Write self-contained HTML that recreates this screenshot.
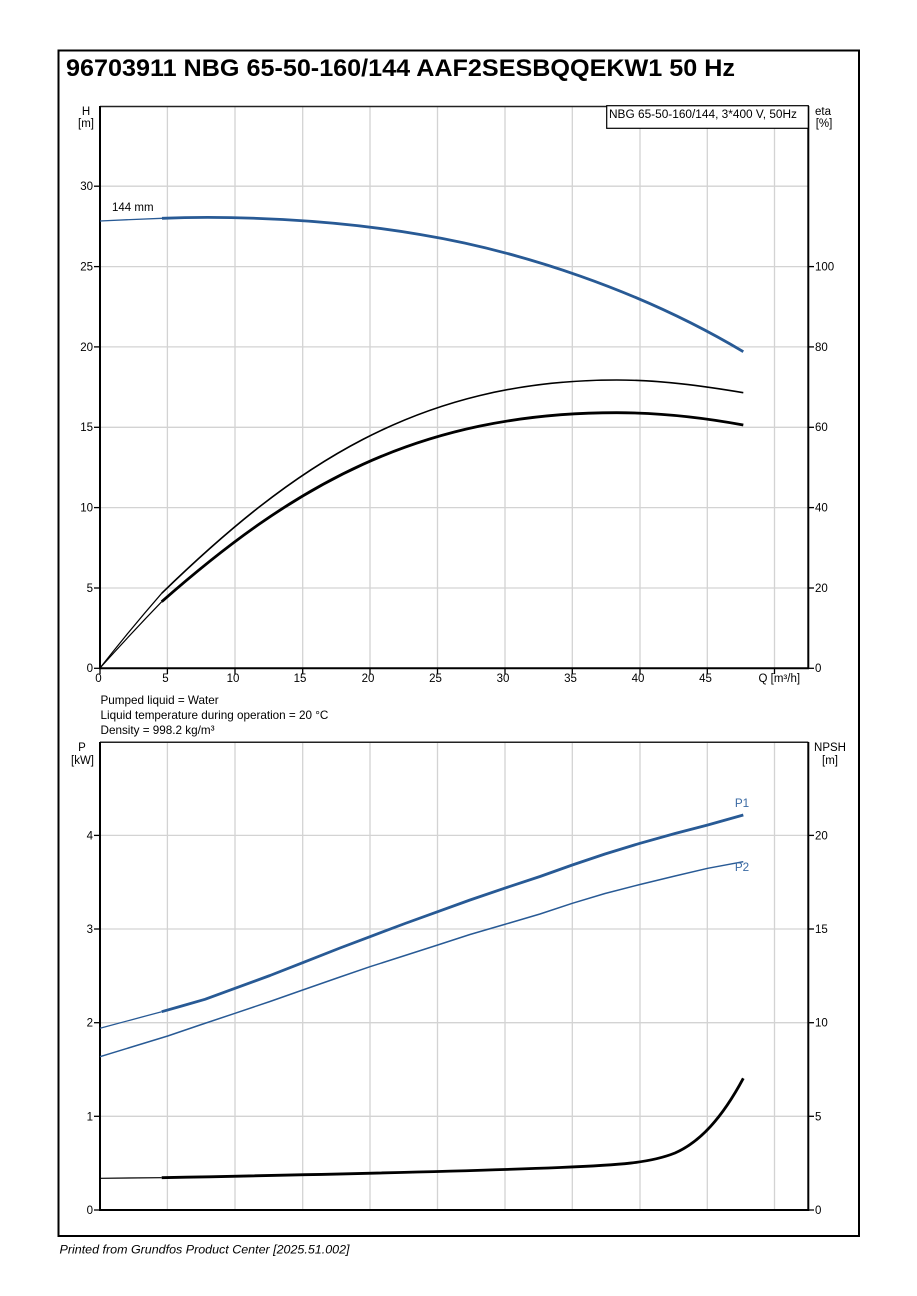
<!DOCTYPE html>
<html>
<head>
<meta charset="utf-8">
<style>
  html,body{margin:0;padding:0;background:#fff;}
  svg{display:block;}
  text{font-family:"Liberation Sans",Arial,sans-serif;fill:#000;}
</style>
</head>
<body>
<svg width="917" height="1296" viewBox="0 0 917 1296" xmlns="http://www.w3.org/2000/svg">
  <rect x="0" y="0" width="917" height="1296" fill="#fff"/>
  <rect x="58.5" y="50.5" width="800.5" height="1185.5" fill="none" stroke="#000" stroke-width="2"/>
  <text x="66" y="76" font-size="24" font-weight="bold" textLength="669" lengthAdjust="spacingAndGlyphs">96703911 NBG 65-50-160/144 AAF2SESBQQEKW1 50 Hz</text>

  <!-- ================= TOP PLOT ================= -->
  <g stroke="#d3d3d3" stroke-width="1.3" fill="none">
    <line x1="167.4" y1="106" x2="167.4" y2="668"/>
    <line x1="235" y1="106" x2="235" y2="668"/>
    <line x1="302.7" y1="106" x2="302.7" y2="668"/>
    <line x1="370" y1="106" x2="370" y2="668"/>
    <line x1="437.5" y1="106" x2="437.5" y2="668"/>
    <line x1="505" y1="106" x2="505" y2="668"/>
    <line x1="572.3" y1="106" x2="572.3" y2="668"/>
    <line x1="640" y1="106" x2="640" y2="668"/>
    <line x1="707.3" y1="106" x2="707.3" y2="668"/>
    <line x1="774.5" y1="106" x2="774.5" y2="668"/>
    <line x1="100" y1="588" x2="808" y2="588"/>
    <line x1="100" y1="507.6" x2="808" y2="507.6"/>
    <line x1="100" y1="427.3" x2="808" y2="427.3"/>
    <line x1="100" y1="346.9" x2="808" y2="346.9"/>
    <line x1="100" y1="266.6" x2="808" y2="266.6"/>
    <line x1="100" y1="186.2" x2="808" y2="186.2"/>
  </g>
  <line x1="100" y1="106.5" x2="808.3" y2="106.5" stroke="#222" stroke-width="1.5"/>
  <line x1="808.3" y1="106" x2="808.3" y2="669" stroke="#000" stroke-width="2"/>
  <line x1="100" y1="106" x2="100" y2="669" stroke="#000" stroke-width="2"/>
  <line x1="99" y1="668.3" x2="809" y2="668.3" stroke="#000" stroke-width="2"/>
  <g stroke="#000" stroke-width="1.3">
    <line x1="94" y1="668.3" x2="100" y2="668.3"/>
    <line x1="94" y1="588" x2="100" y2="588"/>
    <line x1="94" y1="507.6" x2="100" y2="507.6"/>
    <line x1="94" y1="427.3" x2="100" y2="427.3"/>
    <line x1="94" y1="346.9" x2="100" y2="346.9"/>
    <line x1="94" y1="266.6" x2="100" y2="266.6"/>
    <line x1="94" y1="186.2" x2="100" y2="186.2"/>
    <line x1="808" y1="668.3" x2="814" y2="668.3"/>
    <line x1="808" y1="588" x2="814" y2="588"/>
    <line x1="808" y1="507.6" x2="814" y2="507.6"/>
    <line x1="808" y1="427.3" x2="814" y2="427.3"/>
    <line x1="808" y1="346.9" x2="814" y2="346.9"/>
    <line x1="808" y1="266.6" x2="814" y2="266.6"/>
    <line x1="100" y1="668" x2="100" y2="674"/>
    <line x1="167.4" y1="668" x2="167.4" y2="674"/>
    <line x1="235" y1="668" x2="235" y2="674"/>
    <line x1="302.7" y1="668" x2="302.7" y2="674"/>
    <line x1="370" y1="668" x2="370" y2="674"/>
    <line x1="437.5" y1="668" x2="437.5" y2="674"/>
    <line x1="505" y1="668" x2="505" y2="674"/>
    <line x1="572.3" y1="668" x2="572.3" y2="674"/>
    <line x1="640" y1="668" x2="640" y2="674"/>
    <line x1="707.3" y1="668" x2="707.3" y2="674"/>
    <line x1="774.5" y1="668" x2="774.5" y2="674"/>
  </g>
  <g font-size="11.5" text-anchor="end">
    <text x="93" y="672">0</text>
    <text x="93" y="592">5</text>
    <text x="93" y="511.5">10</text>
    <text x="93" y="431">15</text>
    <text x="93" y="351">20</text>
    <text x="93" y="270.5">25</text>
    <text x="93" y="190">30</text>
  </g>
  <g font-size="11.5">
    <text x="815" y="672">0</text>
    <text x="815" y="592">20</text>
    <text x="815" y="511.5">40</text>
    <text x="815" y="431">60</text>
    <text x="815" y="351">80</text>
    <text x="815" y="270.5">100</text>
  </g>
  <g font-size="11.5" text-anchor="middle">
    <text x="98.5" y="682">0</text>
    <text x="165.5" y="682">5</text>
    <text x="233" y="682">10</text>
    <text x="300" y="682">15</text>
    <text x="368" y="682">20</text>
    <text x="435.5" y="682">25</text>
    <text x="503" y="682">30</text>
    <text x="570.5" y="682">35</text>
    <text x="638" y="682">40</text>
    <text x="705.5" y="682">45</text>
  </g>
  <text x="758.5" y="682" font-size="11.5">Q [m³/h]</text>
  <g font-size="11.5" text-anchor="middle">
    <text x="86" y="115">H</text>
    <text x="86" y="127">[m]</text>
    <text x="823" y="115">eta</text>
    <text x="824" y="127">[%]</text>
  </g>
  <rect x="606.7" y="105.7" width="201.6" height="22.6" fill="#fff" stroke="#000" stroke-width="1.2"/>
  <text x="609" y="118" font-size="11.5" textLength="188" lengthAdjust="spacingAndGlyphs">NBG 65-50-160/144, 3*400 V, 50Hz</text>
  <text x="112" y="211" font-size="11.5">144 mm</text>

  <!-- H curve -->
  <polyline fill="none" stroke="#285a95" stroke-width="1.3" points="100,221 130,219.6 162,218.3"/>
  <path fill="none" stroke="#285a95" stroke-width="2.8"
        d="M162,218.3 C230,215.5 330,219 420,234.5 C520,251 640,290 743.3,351.7"/>

  <!-- eta upper (thin) -->
  <path fill="none" stroke="#000" stroke-width="1.2" d="M100,668 Q131,628.5 161.7,593.3"/>
  <path fill="none" stroke="#000" stroke-width="1.6"
        d="M161.7,593.3 C291.7,467.2 416.7,380 616.7,380 C660,380 703.3,386 743.3,392.7"/>

  <!-- eta lower (thick) -->
  <path fill="none" stroke="#000" stroke-width="1.2" d="M100,668 Q131,633.5 161.7,601.7"/>
  <path fill="none" stroke="#000" stroke-width="2.8"
        d="M161.7,601.7 C291.7,487.3 416.7,412.7 616.7,412.7 C660,412.7 703.3,417.6 743.3,425"/>

  <g font-size="11.7">
    <text x="100.5" y="704">Pumped liquid = Water</text>
    <text x="100.5" y="719">Liquid temperature during operation = 20 °C</text>
    <text x="100.5" y="734">Density = 998.2 kg/m³</text>
  </g>

  <!-- ================= BOTTOM PLOT ================= -->
  <g stroke="#d3d3d3" stroke-width="1.3" fill="none">
    <line x1="167.4" y1="742" x2="167.4" y2="1210"/>
    <line x1="235" y1="742" x2="235" y2="1210"/>
    <line x1="302.7" y1="742" x2="302.7" y2="1210"/>
    <line x1="370" y1="742" x2="370" y2="1210"/>
    <line x1="437.5" y1="742" x2="437.5" y2="1210"/>
    <line x1="505" y1="742" x2="505" y2="1210"/>
    <line x1="572.3" y1="742" x2="572.3" y2="1210"/>
    <line x1="640" y1="742" x2="640" y2="1210"/>
    <line x1="707.3" y1="742" x2="707.3" y2="1210"/>
    <line x1="774.5" y1="742" x2="774.5" y2="1210"/>
    <line x1="100" y1="1116.3" x2="808" y2="1116.3"/>
    <line x1="100" y1="1022.7" x2="808" y2="1022.7"/>
    <line x1="100" y1="929" x2="808" y2="929"/>
    <line x1="100" y1="835.4" x2="808" y2="835.4"/>
  </g>
  <line x1="100" y1="742.2" x2="808.3" y2="742.2" stroke="#222" stroke-width="1.5"/>
  <line x1="808.3" y1="742" x2="808.3" y2="1211" stroke="#000" stroke-width="2"/>
  <line x1="100" y1="742" x2="100" y2="1211" stroke="#000" stroke-width="2"/>
  <line x1="99" y1="1210" x2="809" y2="1210" stroke="#000" stroke-width="2"/>
  <g stroke="#000" stroke-width="1.3">
    <line x1="94" y1="1210" x2="100" y2="1210"/>
    <line x1="94" y1="1116.3" x2="100" y2="1116.3"/>
    <line x1="94" y1="1022.7" x2="100" y2="1022.7"/>
    <line x1="94" y1="929" x2="100" y2="929"/>
    <line x1="94" y1="835.4" x2="100" y2="835.4"/>
    <line x1="808" y1="1210" x2="814" y2="1210"/>
    <line x1="808" y1="1116.3" x2="814" y2="1116.3"/>
    <line x1="808" y1="1022.7" x2="814" y2="1022.7"/>
    <line x1="808" y1="929" x2="814" y2="929"/>
    <line x1="808" y1="835.4" x2="814" y2="835.4"/>
  </g>
  <g font-size="11.5" text-anchor="end">
    <text x="93" y="1214">0</text>
    <text x="93" y="1120.3">1</text>
    <text x="93" y="1026.7">2</text>
    <text x="93" y="933">3</text>
    <text x="93" y="839.4">4</text>
  </g>
  <g font-size="11.5">
    <text x="815" y="1214">0</text>
    <text x="815" y="1120.3">5</text>
    <text x="815" y="1026.7">10</text>
    <text x="815" y="933">15</text>
    <text x="815" y="839.4">20</text>
  </g>
  <g font-size="11.5" text-anchor="middle">
    <text x="82" y="751">P</text>
    <text x="82.5" y="764">[kW]</text>
    <text x="830" y="751">NPSH</text>
    <text x="830" y="764">[m]</text>
  </g>

  <!-- P1 -->
  <polyline fill="none" stroke="#285a95" stroke-width="1.3" points="100,1028.3 130,1020.2 161.7,1011.7"/>
  <polyline fill="none" stroke="#285a95" stroke-width="2.8" stroke-linejoin="round" points="161.7,1011.7 180,1006.5 205,999.3 235,988.3 270,975.5 302.7,962.7 340,948 370,936.7 405,923.5 437.7,911.7 470,900 504.3,888.3 540,876.5 572.3,865 605,854 640,843.3 675,833.5 707.7,825 743.3,815"/>
  <!-- P2 -->
  <polyline fill="none" stroke="#285a95" stroke-width="1.5" stroke-linejoin="round" points="100,1056.7 130,1047.5 167.7,1036 200,1025 235,1013.3 270,1001.5 302.7,990 340,977 370,966.7 405,955.5 437.7,945 470,934.5 504.3,924.5 540,914 572.3,903.3 605,893.5 640,884.5 675,876 707.7,868.3 743.3,861.7"/>
  <text x="742" y="807" font-size="11.7" text-anchor="middle" style="fill:#3a6aa3">P1</text>
  <text x="742" y="871" font-size="11.7" text-anchor="middle" style="fill:#3a6aa3">P2</text>

  <!-- NPSH -->
  <polyline fill="none" stroke="#000" stroke-width="1.2" points="100,1178.3 161.7,1177.7"/>
  <path fill="none" stroke="#000" stroke-width="2.8"
        d="M161.7,1177.7 C300,1175 450,1172 560,1167.5 C620,1165 650,1163 675,1153 C700,1142 722,1118 743.3,1078.3"/>

  <text x="59.5" y="1253.5" font-size="11.7" font-style="italic" textLength="290" lengthAdjust="spacingAndGlyphs">Printed from Grundfos Product Center [2025.51.002]</text>
</svg>
</body>
</html>
